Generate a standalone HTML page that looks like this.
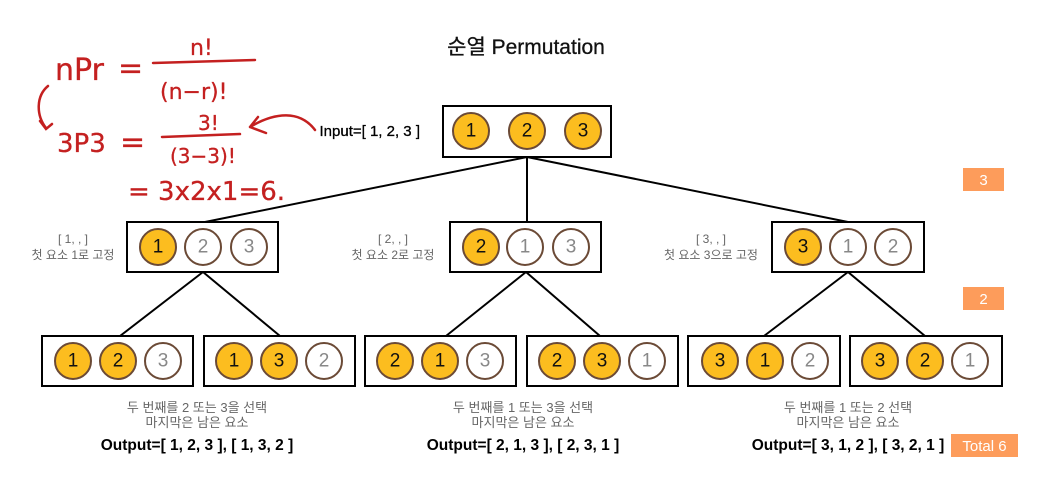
<!DOCTYPE html>
<html><head><meta charset="utf-8"><style>
html,body{margin:0;padding:0;background:#fff;}
svg{display:block;}
text{font-family:"Liberation Sans","Noto Sans CJK KR",sans-serif;}
.g{fill:#666;font-size:12px;text-anchor:middle;}
.gb{fill:#666;font-size:13px;text-anchor:middle;}
.o{fill:#000;font-size:15.5px;font-weight:bold;text-anchor:middle;}
.n{font-size:19px;text-anchor:middle;dominant-baseline:central;}
.h{fill:none;stroke:#c42020;stroke-width:2.5;stroke-linecap:round;}
.ht{fill:#c42020;stroke:#c42020;stroke-width:0.3;font-family:"DejaVu Sans","Liberation Sans",sans-serif;}
</style></head><body>
<svg width="1053" height="500" viewBox="0 0 1053 500" xmlns="http://www.w3.org/2000/svg">
<defs>
<g id="y"><circle r="18" fill="#fcbd1f" stroke="#6b4a36" stroke-width="2"/></g>
<g id="w"><circle r="18" fill="#fff" stroke="#6b4a36" stroke-width="2"/></g>
</defs>
<text x="526" y="54" font-size="21" text-anchor="middle" fill="#111" stroke="#111" stroke-width="0.3">순열  Permutation</text>

<!-- handwriting -->
<text class="ht" x="55" y="80" font-size="30">nPr</text>
<text class="ht" x="118" y="78" font-size="30">=</text>
<path class="h" d="M153 63 L255 60"/>
<text class="ht" x="190" y="55" font-size="22">n!</text>
<text class="ht" x="160" y="99" font-size="22">(n−r)!</text>
<path class="h" d="M48 86 C36 96 36 115 46 128 M40 121 L46 129 L52 124"/>
<text class="ht" x="57" y="152" font-size="26">3P3</text>
<text class="ht" x="120" y="152" font-size="30">=</text>
<path class="h" d="M162 137 L240 134"/>
<text class="ht" x="198" y="130" font-size="20">3!</text>
<text class="ht" x="170" y="163" font-size="20">(3−3)!</text>
<text class="ht" x="128" y="200" font-size="26">= 3x2x1=6.</text>
<path class="h" d="M315 130 C300 110 275 112 250 127 M250 127 L258 117 M250 127 L266 133"/>

<!-- lines -->
<g stroke="#000" stroke-width="2" fill="none">
<path d="M527 157 L205 222 M527 157 L527 222 M527 157 L848 222"/>
<path d="M203 272 L120 336 M203 272 L280 336"/>
<path d="M526 272 L446 336 M526 272 L600 336"/>
<path d="M848 272 L764 336 M848 272 L925 336"/>
</g>
<g fill="#fff" stroke="#000" stroke-width="2">
<rect x="443" y="106" width="168" height="51"/>
<rect x="127" y="222" width="151" height="50"/>
<rect x="450" y="222" width="151" height="50"/>
<rect x="772" y="222" width="152" height="50"/>
<rect x="42" y="336" width="151" height="50"/>
<rect x="204" y="336" width="151" height="50"/>
<rect x="365" y="336" width="151" height="50"/>
<rect x="527" y="336" width="151" height="50"/>
<rect x="688" y="336" width="152" height="50"/>
<rect x="850" y="336" width="152" height="50"/>
</g>
<g>
<use href="#y" x="471" y="131"/><use href="#y" x="527" y="131"/><use href="#y" x="583" y="131"/>
<use href="#y" x="158" y="247"/><use href="#w" x="203" y="247"/><use href="#w" x="249" y="247"/>
<use href="#y" x="481" y="247"/><use href="#w" x="525" y="247"/><use href="#w" x="571" y="247"/>
<use href="#y" x="803" y="247"/><use href="#w" x="848" y="247"/><use href="#w" x="893" y="247"/>
<use href="#y" x="73" y="361"/><use href="#y" x="118" y="361"/><use href="#w" x="163" y="361"/>
<use href="#y" x="234" y="361"/><use href="#y" x="279" y="361"/><use href="#w" x="324" y="361"/>
<use href="#y" x="395" y="361"/><use href="#y" x="440" y="361"/><use href="#w" x="485" y="361"/>
<use href="#y" x="557" y="361"/><use href="#y" x="602" y="361"/><use href="#w" x="647" y="361"/>
<use href="#y" x="720" y="361"/><use href="#y" x="765" y="361"/><use href="#w" x="810" y="361"/>
<use href="#y" x="880" y="361"/><use href="#y" x="925" y="361"/><use href="#w" x="970" y="361"/>
</g>
<g class="n" fill="#111">
<text x="471" y="131">1</text><text x="527" y="131">2</text><text x="583" y="131">3</text>
<text x="158" y="247">1</text><text x="203" y="247" fill="#888">2</text><text x="249" y="247" fill="#888">3</text>
<text x="481" y="247">2</text><text x="525" y="247" fill="#888">1</text><text x="571" y="247" fill="#888">3</text>
<text x="803" y="247">3</text><text x="848" y="247" fill="#888">1</text><text x="893" y="247" fill="#888">2</text>
<text x="73" y="361">1</text><text x="118" y="361">2</text><text x="163" y="361" fill="#888">3</text>
<text x="234" y="361">1</text><text x="279" y="361">3</text><text x="324" y="361" fill="#888">2</text>
<text x="395" y="361">2</text><text x="440" y="361">1</text><text x="485" y="361" fill="#888">3</text>
<text x="557" y="361">2</text><text x="602" y="361">3</text><text x="647" y="361" fill="#888">1</text>
<text x="720" y="361">3</text><text x="765" y="361">1</text><text x="810" y="361" fill="#888">2</text>
<text x="880" y="361">3</text><text x="925" y="361">2</text><text x="970" y="361" fill="#888">1</text>
</g>
<text x="420" y="136" font-size="15" text-anchor="end" fill="#000" stroke="#000" stroke-width="0.3">Input=[ 1, 2, 3 ]</text>

<text class="g" x="73" y="243">[ 1,  ,  ]</text><text class="g" x="73" y="259">첫 요소 1로 고정</text>
<text class="g" x="393" y="243">[ 2,  ,  ]</text><text class="g" x="393" y="259">첫 요소 2로 고정</text>
<text class="g" x="711" y="243">[ 3,  ,  ]</text><text class="g" x="711" y="259">첫 요소 3으로 고정</text>

<text class="gb" x="197" y="412">두 번째를 2 또는 3을 선택</text><text class="gb" x="197" y="427">마지막은 남은 요소</text>
<text class="o" x="197" y="450">Output=[ 1, 2, 3 ], [ 1, 3, 2 ]</text>
<text class="gb" x="523" y="412">두 번째를 1 또는 3을 선택</text><text class="gb" x="523" y="427">마지막은 남은 요소</text>
<text class="o" x="523" y="450">Output=[ 2, 1, 3 ], [ 2, 3, 1 ]</text>
<text class="gb" x="848" y="412">두 번째를 1 또는 2 선택</text><text class="gb" x="848" y="427">마지막은 남은 요소</text>
<text class="o" x="848" y="450">Output=[ 3, 1, 2 ], [ 3, 2, 1 ]</text>

<rect x="963" y="168" width="41" height="23" fill="#fd9c5b"/>
<text x="983.5" y="185" font-size="15" fill="#fff" text-anchor="middle">3</text>
<rect x="963" y="287" width="41" height="23" fill="#fd9c5b"/>
<text x="983.5" y="304" font-size="15" fill="#fff" text-anchor="middle">2</text>
<rect x="951" y="434" width="67" height="23" fill="#fd9c5b"/>
<text x="984.5" y="451" font-size="15" fill="#fff" text-anchor="middle">Total  6</text>
</svg>
</body></html>
